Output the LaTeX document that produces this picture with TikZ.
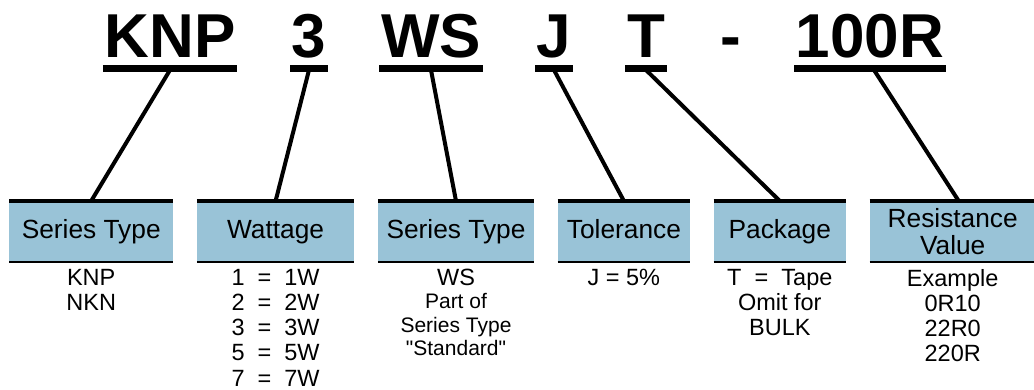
\documentclass[tikz,border=0pt]{standalone}
\usepackage{fontspec}
\setmainfont{Liberation Sans}[Ligatures=TeXOff]
\usetikzlibrary{positioning}
\definecolor{headblue}{RGB}{153,195,215}
\tikzset{
  code/.style={
    font=\fontsize{62}{62}\selectfont\bfseries,
    inner xsep=1.5pt, inner ysep=0pt, anchor=base
  },
  codebar/.style={line width=7pt},
  head/.style={
    rectangle, fill=headblue, minimum height=61pt, inner sep=0pt,
    align=center, anchor=north west, font=\fontsize{26.3}{26.5}\selectfont
  },
  onerow/.style={text height=19pt, text depth=5.5pt},
  topline/.style={line width=4pt},
  botline/.style={line width=2pt},
  info/.style={
    inner sep=0pt, align=center, font=\fontsize{23.5}{25.2}\selectfont
  },
  leader/.style={line width=4pt}
}

\begin{document}
\begin{tikzpicture}[x=1pt, y=-1pt, node distance=6.5pt and 23.5pt]
\useasboundingbox (0,0) rectangle (1034,390);

% 1 : Code
\node[code] (cKNP) at (170,58) {KNP};
\node[code] (c3) at (309,58) {3};
\node[code] (cWS) at (431,58) {WS};
\node[code] (cJ) at (554,58) {J};
\node[code] (cT) at (646,58) {T};
\node[code, inner xsep=0pt] (cdash) at (731,58) {-};
\node[code] (cVal) at (870,58) {100R};
\foreach \c in {cKNP,c3,cWS,cJ,cT,cVal}
  \draw[codebar] ([yshift=-10.5pt]\c.base west) -- ([yshift=-10.5pt]\c.base east);

% 2 : Series Type
\node[head, onerow, minimum width=164pt] (bSeries) at (9,201) {Series Type};
\node[info, below=of bSeries] (iSeries) {KNP\\NKN};

% 3 : Wattage
\node[head, onerow, minimum width=157pt, right=of bSeries] (bWatt) {Wattage};
\node[info, below=of bWatt] (iWatt) {1~~=~~1W\\2~~=~~2W\\3~~=~~3W\\5~~=~~5W\\7~~=~~7W};

% 4 : Series Type (WS)
\node[head, onerow, minimum width=156pt, right=of bWatt] (bStd) {Series Type};
\node[info, below=of bStd, font=\fontsize{21}{23.3}\selectfont] (iStd)
  {{\fontsize{23.5}{23.3}\selectfont WS}\\Part of\\Series Type\\"Standard"};

% 5 : Tolerance
\node[head, onerow, minimum width=132pt, right=of bStd] (bTol) {Tolerance};
\node[info, below=of bTol] (iTol) {J = 5\%};

% 6 : Package
\node[head, onerow, minimum width=132pt, right=of bTol] (bPack) {Package};
\node[info, below=of bPack] (iPack) {T~~=~~Tape\\Omit for\\BULK};

% 7 : Resistance Value
\node[head, minimum width=166pt, right=of bPack] (bRes) {Resistance\\Value};
\node[info, below=of bRes] (iRes) {Example\\0R10\\22R0\\220R};

% lines above and below the heads
\foreach \b in {bSeries,bWatt,bStd,bTol,bPack,bRes} {
  \draw[topline] (\b.north west) -- (\b.north east);
  \draw[botline] (\b.south west) -- (\b.south east);
}

% leaders
\draw[leader] ([yshift=-12pt]cKNP.base) -- (bSeries.north);
\draw[leader] ([yshift=-12pt]c3.base) -- (bWatt.north);
\draw[leader] ([yshift=-12pt]cWS.base) -- (bStd.north);
\draw[leader] ([yshift=-12pt]cJ.base) -- (bTol.north);
\draw[leader] ([yshift=-12pt]cT.base) -- (bPack.north);
\draw[leader] ([yshift=-12pt,xshift=4pt]cVal.base) -- ([xshift=6pt]bRes.north);

\end{tikzpicture}
\end{document}
